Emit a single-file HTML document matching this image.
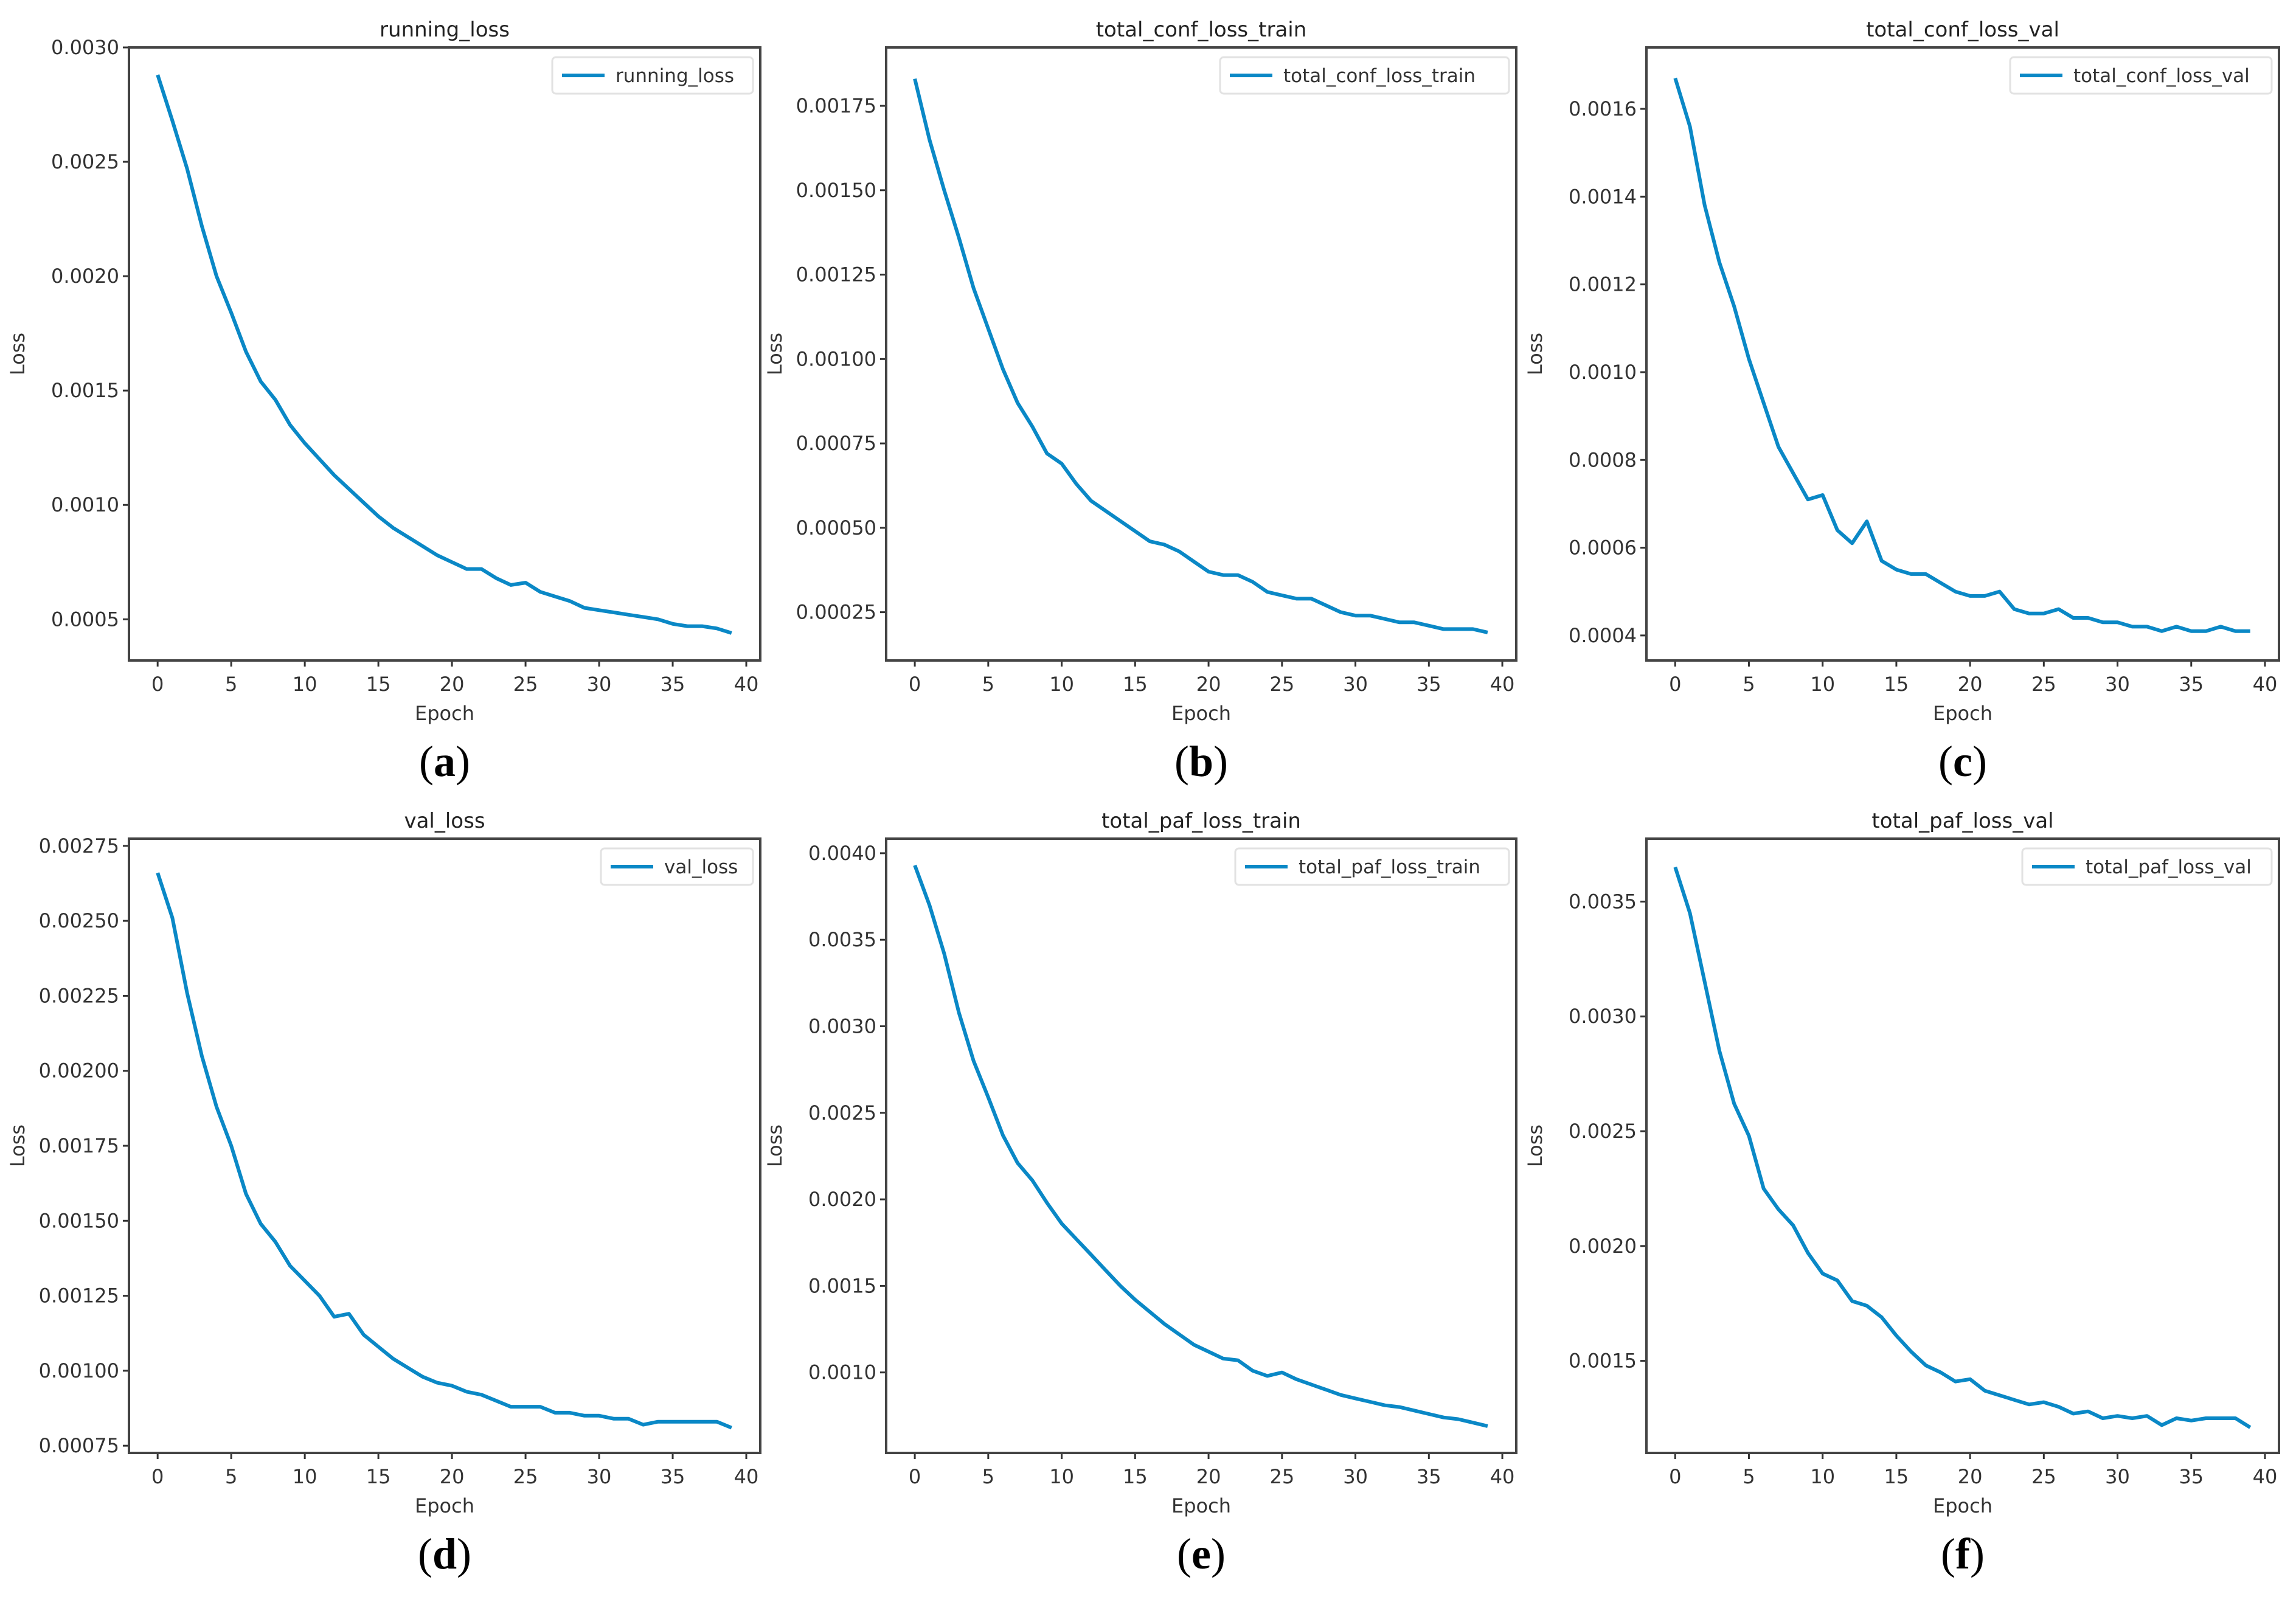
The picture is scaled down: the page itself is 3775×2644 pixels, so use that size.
<!DOCTYPE html>
<html><head><meta charset="utf-8"><style>
html,body{margin:0;padding:0;background:#fff;}
svg{display:block;font-family:"DejaVu Sans","Liberation Sans",sans-serif;}
</style></head><body>
<svg id="fig" width="3775" height="2644" viewBox="0 0 3775 2644" xmlns="http://www.w3.org/2000/svg"></svg>
<script>
const epochs = Array.from({length:40},(_,i)=>i);
const xTicks = [0,5,10,15,20,25,30,35,40];
const runningLoss = [0.00288,0.00268,0.00247,0.00222,0.00200,0.00184,0.00167,0.00154,0.00146,0.00135,0.00127,0.00120,0.00113,0.00107,0.00101,0.00095,0.00090,0.00086,0.00082,0.00078,0.00075,0.00072,0.00072,0.00068,0.00065,0.00066,0.00062,0.00060,0.00058,0.00055,0.00054,0.00053,0.00052,0.00051,0.00050,0.00048,0.00047,0.00047,0.00046,0.00044];
const confTrain = [0.00183,0.00165,0.00150,0.00136,0.00121,0.00109,0.00097,0.00087,0.00080,0.00072,0.00069,0.00063,0.00058,0.00055,0.00052,0.00049,0.00046,0.00045,0.00043,0.00040,0.00037,0.00036,0.00036,0.00034,0.00031,0.00030,0.00029,0.00029,0.00027,0.00025,0.00024,0.00024,0.00023,0.00022,0.00022,0.00021,0.00020,0.00020,0.00020,0.00019];
const confVal = [0.00167,0.00156,0.00138,0.00125,0.00115,0.00103,0.00093,0.00083,0.00077,0.00071,0.00072,0.00064,0.00061,0.00066,0.00057,0.00055,0.00054,0.00054,0.00052,0.00050,0.00049,0.00049,0.00050,0.00046,0.00045,0.00045,0.00046,0.00044,0.00044,0.00043,0.00043,0.00042,0.00042,0.00041,0.00042,0.00041,0.00041,0.00042,0.00041,0.00041];
const valLoss = [0.00266,0.00251,0.00226,0.00205,0.00188,0.00175,0.00159,0.00149,0.00143,0.00135,0.00130,0.00125,0.00118,0.00119,0.00112,0.00108,0.00104,0.00101,0.00098,0.00096,0.00095,0.00093,0.00092,0.00090,0.00088,0.00088,0.00088,0.00086,0.00086,0.00085,0.00085,0.00084,0.00084,0.00082,0.00083,0.00083,0.00083,0.00083,0.00083,0.00081];
const pafTrain = [0.00393,0.00370,0.00342,0.00308,0.00280,0.00259,0.00237,0.00221,0.00211,0.00198,0.00186,0.00177,0.00168,0.00159,0.00150,0.00142,0.00135,0.00128,0.00122,0.00116,0.00112,0.00108,0.00107,0.00101,0.00098,0.00100,0.00096,0.00093,0.00090,0.00087,0.00085,0.00083,0.00081,0.00080,0.00078,0.00076,0.00074,0.00073,0.00071,0.00069];
const pafVal = [0.00365,0.00345,0.00315,0.00285,0.00262,0.00248,0.00225,0.00216,0.00209,0.00197,0.00188,0.00185,0.00176,0.00174,0.00169,0.00161,0.00154,0.00148,0.00145,0.00141,0.00142,0.00137,0.00135,0.00133,0.00131,0.00132,0.00130,0.00127,0.00128,0.00125,0.00126,0.00125,0.00126,0.00122,0.00125,0.00124,0.00125,0.00125,0.00125,0.00121];
const ticksA = ["0.0005","0.0010","0.0015","0.0020","0.0025","0.0030"];
const ticksB = ["0.00025","0.00050","0.00075","0.00100","0.00125","0.00150","0.00175"];
const ticksC = ["0.0004","0.0006","0.0008","0.0010","0.0012","0.0014","0.0016"];
const ticksD = ["0.00075","0.00100","0.00125","0.00150","0.00175","0.00200","0.00225","0.00250","0.00275"];
const ticksE = ["0.0010","0.0015","0.0020","0.0025","0.0030","0.0035","0.0040"];
const ticksF = ["0.0015","0.0020","0.0025","0.0030","0.0035"];

const NS="http://www.w3.org/2000/svg";
const svg=document.getElementById('fig');
function mk(tag,attrs,parent,text){const e=document.createElementNS(NS,tag);for(const k in attrs)e.setAttribute(k,attrs[k]);if(text!==undefined)e.textContent=text;(parent||svg).appendChild(e);return e;}

const panels=[
 {id:'a',title:'running_loss',data:runningLoss,ticks:ticksA,ymin:0.00032,ymax:0.0030,L:212,R:1250,T:78,B:1086,cap:'a',legW:330},
 {id:'b',title:'total_conf_loss_train',data:confTrain,ticks:ticksB,ymin:0.000107,ymax:0.001923,L:1457,R:2493,T:78,B:1086,cap:'b',legW:475},
 {id:'c',title:'total_conf_loss_val',data:confVal,ticks:ticksC,ymin:0.000343,ymax:0.00174,L:2707,R:3747,T:78,B:1086,cap:'c',legW:430},
 {id:'d',title:'val_loss',data:valLoss,ticks:ticksD,ymin:0.000726,ymax:0.002774,L:212,R:1250,T:1379,B:2389,cap:'d',legW:250},
 {id:'e',title:'total_paf_loss_train',data:pafTrain,ticks:ticksE,ymin:0.000535,ymax:0.004084,L:1457,R:2493,T:1379,B:2389,cap:'e',legW:450},
 {id:'f',title:'total_paf_loss_val',data:pafVal,ticks:ticksF,ymin:0.001099,ymax:0.003774,L:2707,R:3747,T:1379,B:2389,cap:'f',legW:410}
];

panels.forEach(p=>{
  const g=mk('g',{});
  
  
  const xmin=-1.95,xmax=40.95;
  const X=v=>p.L+(v-xmin)/(xmax-xmin)*(p.R-p.L);
  const Y=v=>p.B-(v-p.ymin)/(p.ymax-p.ymin)*(p.B-p.T);
  const t=mk('text',{x:(p.L+p.R)/2,y:p.T-18,'text-anchor':'middle','font-size':34,fill:'#222'},g,p.title);
  
  
  xTicks.forEach(v=>{
    mk('line',{x1:X(v),x2:X(v),y1:p.B,y2:p.B+10,stroke:'#333','stroke-width':3},g);
    const tl=mk('text',{x:X(v),y:p.B+50,'text-anchor':'middle','font-size':32,fill:'#333'},g,String(v));
    
    
  });
  p.ticks.forEach(s=>{
    const v=parseFloat(s);const y=Y(v);
    mk('line',{x1:p.L-10,x2:p.L,y1:y,y2:y,stroke:'#333','stroke-width':3},g);
    const tl=mk('text',{x:p.L-16,y:y+11,'text-anchor':'end','font-size':32,fill:'#333'},g,s);
    
    
  });
  const xl=mk('text',{x:(p.L+p.R)/2,y:p.B+98,'text-anchor':'middle','font-size':32,fill:'#333'},g,'Epoch');
  
  
  const yx=p.L-172, yc=(p.T+p.B)/2;
  const ylab=mk('text',{x:yx,y:yc,'text-anchor':'middle','font-size':32,fill:'#333',transform:`rotate(-90 ${yx} ${yc})`},g,'Loss');
  
  
  const pts=p.data.map((v,i)=>X(epochs[i]).toFixed(1)+','+Y(v).toFixed(1)).join(' ');
  const pl=mk('polyline',{points:pts,fill:'none',stroke:'#0a88c6','stroke-width':6,'stroke-linejoin':'round'},g);
  
  
  mk('rect',{x:p.L,y:p.T,width:p.R-p.L,height:p.B-p.T,fill:'none',stroke:'#444','stroke-width':4},g);
  const lx=p.R-p.legW-12, ly=p.T+16;
  const lg=mk('g',{},g);
  
  
  mk('rect',{x:lx,y:ly,width:p.legW,height:60,rx:6,fill:'#fff',stroke:'#e2e2e2','stroke-width':3},lg);
  mk('line',{x1:lx+16,x2:lx+86,y1:ly+30,y2:ly+30,stroke:'#0a88c6','stroke-width':6},lg);
  mk('text',{x:lx+104,y:ly+41,'font-size':31,fill:'#333'},lg,p.title);
  const cap=mk('text',{x:(p.L+p.R)/2,y:p.B+190,'text-anchor':'middle','font-size':72,fill:'#000','font-family':'"Liberation Serif",serif'},g);
  
  
  mk('tspan',{},cap,'(');
  mk('tspan',{'font-weight':'bold'},cap,p.cap);
  mk('tspan',{},cap,')');
});
</script>
</body></html>
